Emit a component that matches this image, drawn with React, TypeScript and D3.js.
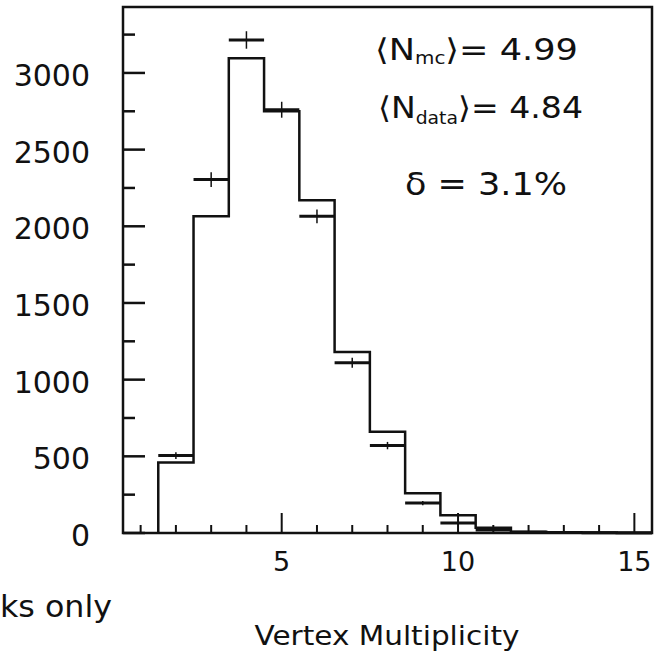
import React from "react";
import * as d3 from "d3";

// Bin centers (vertex multiplicity)
const bins = [2, 3, 4, 5, 6, 7, 8, 9, 10, 11, 12, 13, 14, 15];
// Monte Carlo histogram
const mcValues = [460, 2065, 3095, 2750, 2170, 1180, 660, 260, 115, 35, 8, 5, 3, 0];
// Data points and their errors
const dataValues = [505, 2305, 3215, 2760, 2065, 1110, 570, 195, 65, 20, 5, 3, 2, 1];
const dataErrors = [22, 48, 57, 52, 45, 33, 24, 14, 8, 4, 2, 2, 1, 1];

const yMajorTicks = [0, 500, 1000, 1500, 2000, 2500, 3000];
const yMinorTicks = [250, 750, 1250, 1750, 2250, 2750, 3250];
const xMajorTicks = [5, 10, 15];
const xMinorTicks = [1, 2, 3, 4, 6, 7, 8, 9, 11, 12, 13, 14];

const xLabel = "Vertex Multiplicity";
const sideNote = "ks only";

const W = 660;
const H = 658;
const L = 123;
const R = 652;
const T = 7;
const B = 533;

export default function App() {
  const x = d3.scaleLinear().domain([0.5, 15.5]).range([L, R]);
  const y = d3.scaleLinear().domain([0, 3430]).range([B, T]);

  // histogram step path
  const pts: [number, number][] = [];
  pts.push([bins[0] - 0.5, 0]);
  bins.forEach((b, i) => {
    pts.push([b - 0.5, mcValues[i]]);
    pts.push([b + 0.5, mcValues[i]]);
  });
  pts.push([bins[bins.length - 1] + 0.5, 0]);
  const line = d3
    .line<[number, number]>()
    .x((d) => x(d[0]))
    .y((d) => y(d[1]));
  const histPath = line(pts) || "";

  const tickFont = "DejaVu Sans, Verdana, sans-serif";
  const handFont = "'Comic Sans MS', 'DejaVu Sans', sans-serif";

  return (
    <svg
      width={W}
      height={H}
      viewBox={`0 0 ${W} ${H}`}
      style={{ position: "absolute", left: 0, top: 0, background: "#fff" }}
    >
      <rect x={0} y={0} width={W} height={H} fill="#fff" />
      {/* frame */}
      <rect x={L} y={T} width={R - L} height={B - T} fill="none" stroke="#111" strokeWidth={2.5} />

      {/* y ticks */}
      {yMajorTicks.map((t) => (
        <g key={"ym" + t}>
          <line x1={L} x2={L + 22} y1={y(t)} y2={y(t)} stroke="#111" strokeWidth={2.5} />
          <text
            x={90}
            y={y(t) + 13}
            textAnchor="end"
            fontFamily={tickFont}
            fontSize={30}
            fill="#111"
          >
            {t}
          </text>
        </g>
      ))}
      {yMinorTicks.map((t) => (
        <line key={"yn" + t} x1={L} x2={L + 12} y1={y(t)} y2={y(t)} stroke="#111" strokeWidth={2.5} />
      ))}

      {/* x ticks */}
      {xMajorTicks.map((t) => (
        <g key={"xm" + t}>
          <line x1={x(t)} x2={x(t)} y1={B} y2={B - 20} stroke="#111" strokeWidth={2} />
          <text
            x={x(t)}
            y={571}
            textAnchor="middle"
            fontFamily={tickFont}
            fontSize={27}
            fill="#111"
          >
            {t}
          </text>
        </g>
      ))}
      {xMinorTicks.map((t) => (
        <line key={"xn" + t} x1={x(t)} x2={x(t)} y1={B} y2={B - 8} stroke="#111" strokeWidth={2} />
      ))}

      {/* MC histogram */}
      <path d={histPath} fill="none" stroke="#111" strokeWidth={2.5} />

      {/* data points */}
      {bins.map((b, i) => (
        <g key={"d" + b}>
          <line
            x1={x(b - 0.5)}
            x2={x(b + 0.5)}
            y1={y(dataValues[i])}
            y2={y(dataValues[i])}
            stroke="#111"
            strokeWidth={3}
          />
          <line
            x1={x(b)}
            x2={x(b)}
            y1={y(dataValues[i] - dataErrors[i])}
            y2={y(dataValues[i] + dataErrors[i])}
            stroke="#111"
            strokeWidth={1.5}
          />
        </g>
      ))}

      {/* annotations */}
      <text x={375} y={60} fontFamily={handFont} fontSize={30} fill="#111" textLength={203} lengthAdjust="spacingAndGlyphs">
        {"\u27E8N"}
        <tspan fontSize={17} dy={4}>mc</tspan>
        <tspan dy={-4}>{"\u27E9= 4.99"}</tspan>
      </text>
      <text x={378} y={118} fontFamily={handFont} fontSize={30} fill="#111" textLength={205} lengthAdjust="spacingAndGlyphs">
        {"\u27E8N"}
        <tspan fontSize={17} dy={6}>data</tspan>
        <tspan dy={-6}>{"\u27E9= 4.84"}</tspan>
      </text>
      <text x={405} y={195} fontFamily={handFont} fontSize={32} fill="#111" textLength={162} lengthAdjust="spacingAndGlyphs">
        {"\u03B4 = 3.1%"}
      </text>

      {/* axis label */}
      <text
        x={387}
        y={645}
        textAnchor="middle"
        fontFamily={tickFont}
        fontSize={26}
        fill="#111"
        textLength={265}
        lengthAdjust="spacingAndGlyphs"
      >
        {xLabel}
      </text>
      <text x={0} y={617} fontFamily={handFont} fontSize={30} fill="#111" textLength={112} lengthAdjust="spacingAndGlyphs">
        {sideNote}
      </text>
    </svg>
  );
}
